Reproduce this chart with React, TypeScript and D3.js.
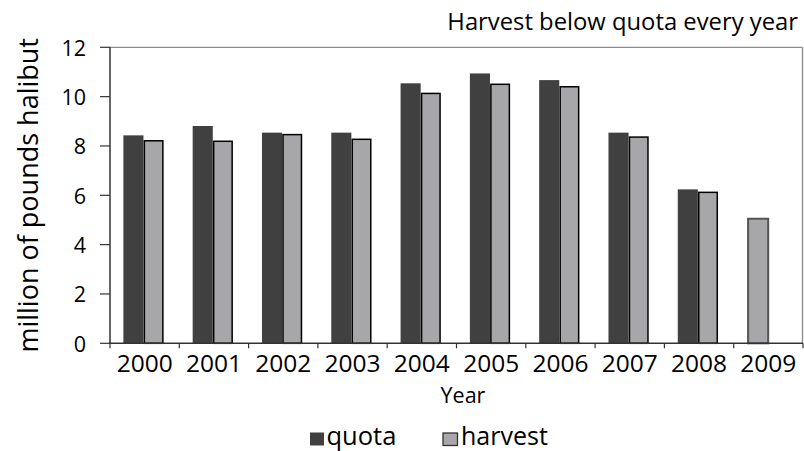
import React from "react";
import * as d3 from "d3";

const years = ["2000", "2001", "2002", "2003", "2004", "2005", "2006", "2007", "2008", "2009"];
const quota: (number | null)[] = [8.43, 8.81, 8.54, 8.54, 10.54, 10.94, 10.67, 8.54, 6.24, null];
const harvest: number[] = [8.21, 8.19, 8.46, 8.27, 10.13, 10.5, 10.4, 8.36, 6.12, 5.05];
const yTicks = [0, 2, 4, 6, 8, 10, 12];
const title = "Harvest below quota every year";
const yLabel = "million of pounds halibut";
const xLabel = "Year";
const seriesNames = ["quota", "harvest"];

const W = 804;
const H = 451;
const L = 110;
const R = 803;
const T = 47.3;
const B = 343.3;
const FONT = "'Open Sans', sans-serif";

export default function App() {
  const x = d3.scaleBand<string>().domain(years).range([L, R]).padding(0);
  const y = d3.scaleLinear().domain([0, 12]).range([B, T]);
  const bw = x.bandwidth();
  const barW = bw * 0.29;
  const off = bw * 0.193;
  const boundaries = years.map((yr) => x(yr) as number).concat([R]);

  return (
    <svg
      width={W}
      height={H}
      style={{ position: "absolute", left: 0, top: 0, background: "#fff" }}
      fontFamily={FONT}
    >
      {/* plot frame */}
      <line x1={L} x2={R - 0.5} y1={T} y2={T} stroke="#8c8c8c" strokeWidth={1.3} />
      <line x1={R - 0.5} x2={R - 0.5} y1={T} y2={B} stroke="#8c8c8c" strokeWidth={1.3} />

      {/* bars */}
      {years.map((yr, i) => {
        const x0 = (x(yr) as number) + off;
        const q = quota[i];
        const h = harvest[i];
        const els: React.ReactNode[] = [];
        if (q != null) {
          els.push(
            <rect key="q" x={x0} y={y(q)} width={barW} height={B - y(q)} fill="#404040" />
          );
          els.push(
            <rect
              key="h"
              x={x0 + barW + 0.9}
              y={y(h)}
              width={barW - 1.6}
              height={B - y(h)}
              fill="#a7a7aa"
              stroke="#000"
              strokeWidth={1.5}
            />
          );
        } else {
          els.push(
            <rect
              key="h"
              x={x0 + 1}
              y={y(h)}
              width={barW}
              height={B - y(h)}
              fill="#a7a7aa"
              stroke="#555"
              strokeWidth={2}
            />
          );
        }
        return <g key={yr}>{els}</g>;
      })}

      {/* y axis */}
      <line x1={L} x2={L} y1={T} y2={B} stroke="#333" strokeWidth={1.5} />
      {yTicks.map((t) => (
        <g key={t}>
          <line x1={L - 10} x2={L} y1={y(t)} y2={y(t)} stroke="#333" strokeWidth={1.2} />
          <text
            x={86}
            y={y(t)}
            textAnchor="end"
            dominantBaseline="central"
            fontSize={21.5}
            fill="#000"
          >
            {t}
          </text>
        </g>
      ))}

      {/* x axis */}
      <line x1={L - 1} x2={R} y1={B} y2={B} stroke="#333" strokeWidth={1.5} />
      {boundaries.map((bx, i) => (
        <line key={i} x1={bx} x2={bx} y1={B} y2={B + 5} stroke="#333" strokeWidth={1.2} />
      ))}
      {years.map((yr) => (
        <text
          key={yr}
          x={(x(yr) as number) + bw / 2}
          y={372}
          textAnchor="middle"
          fontSize={24.5}
          fill="#000"
        >
          {yr}
        </text>
      ))}

      {/* axis titles */}
      <text x={463} y={402.5} textAnchor="middle" fontSize={21.5} fill="#000">
        {xLabel}
      </text>
      <text
        transform={`translate(37.5, ${(T + B) / 2}) rotate(-90)`}
        textAnchor="middle"
        fontSize={27}
        fill="#000"
      >
        {yLabel}
      </text>

      {/* title */}
      <text x={798} y={30} textAnchor="end" fontSize={23.8} fill="#000">
        {title}
      </text>

      {/* legend */}
      <rect x={310} y={432.5} width={14} height={13} fill="#404040" />
      <text x={326.5} y={445} fontSize={25.5} fill="#000">
        {seriesNames[0]}
      </text>
      <rect x={443} y={433} width={14.5} height={12.5} fill="#a7a7aa" stroke="#333" strokeWidth={1.3} />
      <text x={461} y={445} fontSize={25} fill="#000">
        {seriesNames[1]}
      </text>
    </svg>
  );
}
